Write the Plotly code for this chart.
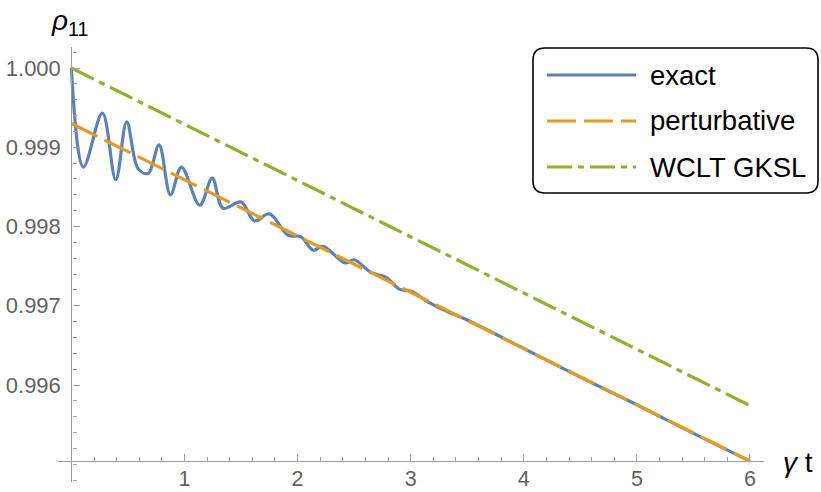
import plotly.graph_objects as go

# ---------------- data ----------------
t_exact = [0.0, 0.106, 0.274, 0.392, 0.489, 0.59, 0.68, 0.775, 0.876, 0.973,
           1.135, 1.245, 1.341, 1.50, 1.62, 1.75, 1.916, 2.03, 2.137, 2.226,
           2.418, 2.50, 2.65, 2.78, 2.90, 3.01, 3.15, 3.32, 3.5, 4.0, 4.5,
           5.0, 5.5, 6.0]
rho_exact = [1.00000, 0.99875, 0.99943, 0.99859, 0.99932, 0.99873, 0.99867,
             0.99903, 0.99840, 0.99875, 0.99827, 0.99861, 0.99823, 0.99831,
             0.99807, 0.99816, 0.99789, 0.99787, 0.99770, 0.99775, 0.99754,
             0.99758, 0.99742, 0.99736, 0.99721, 0.99718, 0.99705, 0.99693,
             0.99682, 0.99646, 0.99610, 0.99575, 0.99539, 0.99504]

t_pert = [0.0, 6.0]
rho_pert = [0.99930, 0.99504]

t_gksl = [0.0, 6.0]
rho_gksl = [1.00000, 0.99574]

x_tickvals = [1, 2, 3, 4, 5, 6]
y_tickvals = [0.996, 0.997, 0.998, 0.999, 1.000]
y_ticktext = ["0.996", "0.997", "0.998", "0.999", "1.000"]

series_names = ["exact", "perturbative", "WCLT GKSL"]
colors = ["#5E81B5", "#E19C24", "#8FB032"]
dashes = ["solid", "29px,8px", "25px,6px,6px,6px"]

# ---------------- layout geometry ----------------
W, H = 821, 492
L, R, T, B = 58, 764, 47, 482      # plot area in pixels
XR = [-0.1185, 6.124]
YR = [0.994776, 1.000265]
AXIS_Y = 0.99504                   # where the horizontal axis crosses
AXIS_X = 0.0


def px(xp):
    return (xp - L) / (R - L)


def py(yp):
    return (B - yp) / (B - T)


axis_col = "#9d9d9d"
label_col = "#626262"

fig = go.Figure()
data_sets = [(t_exact, rho_exact), (t_pert, rho_pert), (t_gksl, rho_gksl)]
for (tx, ry), name, c, d in zip(data_sets, series_names, colors, dashes):
    fig.add_trace(go.Scatter(
        x=tx, y=ry, mode="lines", name=name, showlegend=False,
        line=dict(color=c, width=3.2, dash=d,
                  shape="spline" if name == "exact" else "linear"),
    ))

xpos = (AXIS_Y - YR[0]) / (YR[1] - YR[0])
ypos = (AXIS_X - XR[0]) / (XR[1] - XR[0])

fig.update_layout(
    width=W, height=H,
    margin=dict(l=L, r=W - R, t=T, b=H - B, autoexpand=False),
    showlegend=False,
    paper_bgcolor="white", plot_bgcolor="white",
    font=dict(family="Liberation Sans, Arial, sans-serif", color=label_col),
    xaxis=dict(range=XR, anchor="free", position=xpos, showgrid=False,
               zeroline=False, showline=True, linecolor=axis_col, linewidth=1.3,
               automargin=False,
               tickmode="array", tickvals=x_tickvals, ticks="inside",
               ticklen=7, tickwidth=1.2, tickcolor=axis_col,
               tickfont=dict(size=21.5, color=label_col),
               ticklabelstandoff=-2,
               minor=dict(tick0=0, dtick=0.2, ticks="inside", ticklen=4,
                          tickwidth=1, tickcolor=axis_col, showgrid=False)),
    yaxis=dict(range=YR, anchor="free", position=ypos, showgrid=False,
               zeroline=False, showline=True, linecolor=axis_col, linewidth=1.3,
               automargin=False,
               tickmode="array", tickvals=y_tickvals, ticktext=y_ticktext,
               ticks="inside", ticklen=7, tickwidth=1.2, tickcolor=axis_col,
               tickfont=dict(size=22, color=label_col),
               ticklabelstandoff=6,
               minor=dict(tick0=0, dtick=0.0002, ticks="inside", ticklen=4,
                          tickwidth=1, tickcolor=axis_col, showgrid=False)),
)

# axis labels
fig.add_annotation(xref="paper", yref="paper", x=px(781), y=py(462),
                   xanchor="left", yanchor="middle", showarrow=False,
                   text="<i>γ</i> t", font=dict(size=28, color="black"))
fig.add_annotation(xref="paper", yref="paper", x=px(49), y=py(23),
                   xanchor="left", yanchor="middle", showarrow=False,
                   text="<i>ρ</i><sub>11</sub>", font=dict(size=28, color="black"))

# legend (rounded frame, samples and labels)
x0, x1, y0, y1, r = 533, 818, 48, 193, 12
path = (f"M {px(x0 + r)},{py(y0)} L {px(x1 - r)},{py(y0)} "
        f"Q {px(x1)},{py(y0)} {px(x1)},{py(y0 + r)} "
        f"L {px(x1)},{py(y1 - r)} Q {px(x1)},{py(y1)} {px(x1 - r)},{py(y1)} "
        f"L {px(x0 + r)},{py(y1)} Q {px(x0)},{py(y1)} {px(x0)},{py(y1 - r)} "
        f"L {px(x0)},{py(y0 + r)} Q {px(x0)},{py(y0)} {px(x0 + r)},{py(y0)} Z")
fig.add_shape(type="path", path=path, xref="paper", yref="paper",
              line=dict(color="black", width=1.6), fillcolor="white", layer="above")

rows = [75, 121, 167]
for yy, name, c, d in zip(rows, series_names, colors, dashes):
    fig.add_shape(type="line", xref="paper", yref="paper",
                  x0=px(547), x1=px(636), y0=py(yy), y1=py(yy),
                  line=dict(color=c, width=3.2, dash=d), layer="above")
    fig.add_annotation(xref="paper", yref="paper", x=px(648), y=py(yy),
                       xanchor="left", yanchor="middle", showarrow=False,
                       text=name, font=dict(size=27.5, color="black"))

fig.write_html("out.html", config={"displayModeBar": False})

# remove the browser's default page margin so the figure sits at (0, 0)
with open("out.html", "r", encoding="utf-8") as f:
    html = f.read()
html = html.replace("<head>", "<head><style>html,body{margin:0;padding:0;overflow:hidden;}</style>", 1)
with open("out.html", "w", encoding="utf-8") as f:
    f.write(html)
